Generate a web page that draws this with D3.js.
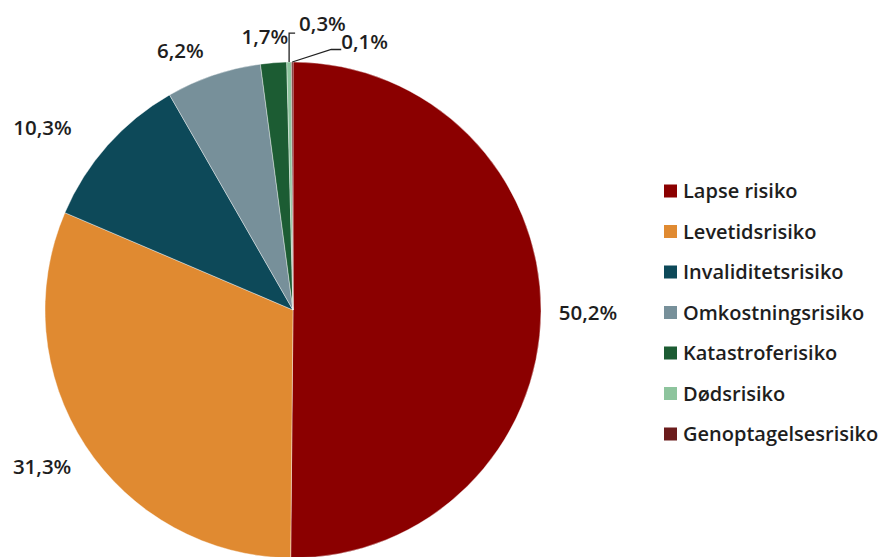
<!DOCTYPE html>
<html>
<head>
<meta charset="utf-8">
<script src="https://cdn.jsdelivr.net/npm/d3@7"></script>
<style>
  body { margin: 0; background: #fff; }
  #chart { width: 881px; height: 557px; }
  text { font-family: "Open Sans", sans-serif; }
</style>
</head>
<body>
<div id="chart"></div>
<script>
// data
const categories = ["Lapse risiko", "Levetidsrisiko", "Invaliditetsrisiko", "Omkostningsrisiko",
  "Katastroferisiko", "Dødsrisiko", "Genoptagelsesrisiko"];
const shares = [50.2, 31.3, 10.3, 6.2, 1.7, 0.3, 0.1];
const colours = ["#8b0000", "#e08a31", "#0d4959", "#77909a", "#1c5c33", "#8dc49d", "#6b1c1c"];

const width = 881, height = 557;
const cx = 293, cy = 310, radius = 248;

const svg = d3.select("#chart").append("svg")
  .attr("width", width)
  .attr("height", height);

const g = svg.append("g").attr("transform", "translate(" + cx + "," + cy + ")");

const pie = d3.pie().sort(null).value(d => d.v);
const arcs = pie(categories.map((c, i) => ({ c: c, v: shares[i], i: i })));

const arc = d3.arc().innerRadius(0).outerRadius(radius);

g.selectAll("path")
  .data(arcs)
  .enter().append("path")
  .attr("d", arc)
  .attr("fill", d => colours[d.data.i])
  .attr("stroke", "#fff")
  .attr("stroke-width", 0.4);

const fmt = v => d3.format(".1f")(v).replace(".", ",") + "%";

// label nudges so the texts sit where the original placed them
const nudge = [[0, 2], [-4, 6], [-30, 1], [-18, 2], [-5, 2]];

const big = arcs.filter(d => d.data.v >= 1);
big.forEach(function (d, k) {
  const a = (d.startAngle + d.endAngle) / 2;
  const s = Math.sin(a), c = Math.cos(a);
  const r = radius + 18;
  const tx = r * s + s * 29 + nudge[k][0];
  const ty = -r * c - c * 10 + nudge[k][1];
  g.append("text")
    .attr("x", tx)
    .attr("y", ty)
    .attr("dy", "0.35em")
    .attr("text-anchor", "middle")
    .attr("font-size", 20.5)
    .attr("font-weight", 600)
    .attr("fill", "#1e1e1e")
    .text(fmt(d.data.v));
});

// small slices get leader lines
const leaders = [
  { elbow: [0, -29], tail: 6, gap: 4, lift: -2 },
  { elbow: [39, -12.5], tail: 10, gap: 0, lift: -1 }
];
const small = arcs.filter(d => d.data.v < 1);
small.forEach(function (d, k) {
  const a = (d.startAngle + d.endAngle) / 2;
  const x0 = radius * Math.sin(a), y0 = -radius * Math.cos(a);
  const L = leaders[k];
  const x1 = x0 + L.elbow[0], y1 = y0 + L.elbow[1];
  const x2 = x1 + L.tail;
  g.append("path")
    .attr("d", d3.line()([[x0, y0], [x1, y1], [x2, y1]]))
    .attr("fill", "none")
    .attr("stroke", "#222")
    .attr("stroke-width", 1.3);
  g.append("text")
    .attr("x", x2 + L.gap)
    .attr("y", y1 + L.lift)
    .attr("font-size", 20.5)
    .attr("font-weight", 600)
    .attr("fill", "#1e1e1e")
    .text(fmt(d.data.v));
});

// legend
const legend = svg.append("g").attr("transform", "translate(664,191)");
const item = legend.selectAll("g")
  .data(categories)
  .enter().append("g")
  .attr("transform", (d, i) => "translate(0," + i * 40.5 + ")");

item.append("rect")
  .attr("x", 0)
  .attr("y", -6.5)
  .attr("width", 13)
  .attr("height", 13)
  .attr("fill", (d, i) => colours[i]);

item.append("text")
  .attr("x", 19)
  .attr("dy", "0.35em")
  .attr("font-size", 20)
  .attr("font-weight", 600)
  .attr("fill", "#1e1e1e")
  .text(d => d);
</script>
</body>
</html>
